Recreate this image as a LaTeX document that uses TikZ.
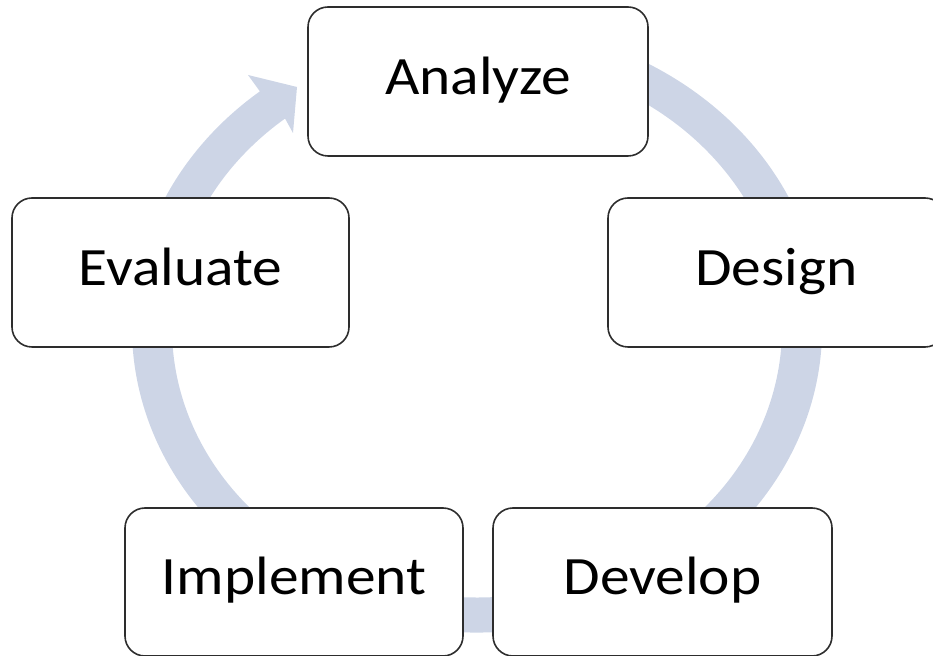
\documentclass[tikz,border=0pt]{standalone}
\usepackage{fontspec}
\setmainfont{Carlito}[FakeStretch=1.1]
\definecolor{ring}{RGB}{205,213,230}
\definecolor{edge}{RGB}{45,45,45}
\begin{document}
\begin{tikzpicture}[x=1pt,y=1pt,
  stage/.style={draw=edge, line width=1.6pt, fill=white, rounded corners=20pt,
    inner sep=0pt, text height=26pt, text depth=0pt,
    font=\fontsize{54}{60}\selectfont, minimum height=149pt}]
\useasboundingbox (0,0) rectangle (933,655);
\clip (0,0) rectangle (933,655);
% cycle band with arrowhead
\fill[ring] (417.09,626.87)
  arc[start angle=100, end angle=-231, x radius=345, y radius=304.5]
  -- (248,580) -- (297,568) -- (293,522) -- (285.06,536.44)
  arc[start angle=-231, end angle=100, x radius=305, y radius=269.5]
  -- cycle;
% stages
\node[stage, minimum width=340pt] (analyze) at (478,573.5) {Analyze};
\node[stage, minimum width=337pt] (design) at (776.5,382.5) {Design};
\node[stage, minimum width=337pt] (evaluate) at (180.5,382.5) {Evaluate};
\node[stage, minimum width=338pt, minimum height=148pt] (implement) at (294,73) {Implement};
\node[stage, minimum width=339pt, minimum height=148pt] (develop) at (662.5,73) {Develop};
\end{tikzpicture}
\end{document}
